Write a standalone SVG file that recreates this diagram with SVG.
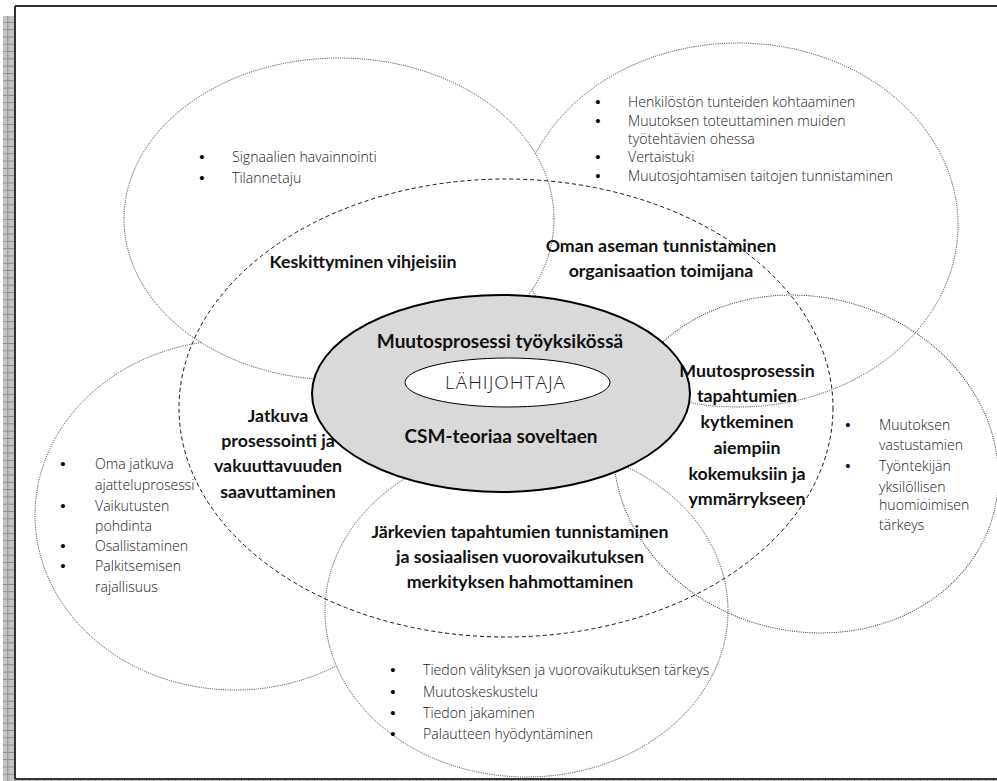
<svg xmlns="http://www.w3.org/2000/svg" width="997" height="781" viewBox="0 0 997 781">
<defs>
<pattern id="grid" width="7.3" height="7.3" patternUnits="userSpaceOnUse">
<rect width="7.3" height="7.3" fill="#c4c4c4"/>
<path d="M0 0.5H7.3M0.5 0V7.3" stroke="#8c8c8c" stroke-width="1"/>
</pattern>
<style>
.dot{fill:none;stroke:#333;stroke-width:1;stroke-dasharray:1 1.2}
.dotw{fill:#fff;stroke:#333;stroke-width:1;stroke-dasharray:1 1.2}
.dash{fill:none;stroke:#111;stroke-width:1;stroke-dasharray:4 3}
.lbl{font-family:Lato,"Liberation Sans",sans-serif;font-weight:700;font-size:17.8px;fill:#111;text-anchor:middle}
.big{font-size:19px}
.bul{font-family:"Open Sans","Liberation Sans",sans-serif;font-weight:300;font-size:14.1px;fill:#222}
.bd{font-family:"Liberation Sans",sans-serif;font-size:15px;fill:#000;text-anchor:middle}
</style>
</defs>
<rect width="997" height="781" fill="#fff"/>
<rect x="3" y="16" width="12" height="765" fill="url(#grid)"/>
<rect x="15" y="779" width="982" height="2" fill="url(#grid)"/>
<path d="M15 6H997M15 6V779M15 779H997" fill="none" stroke="#333" stroke-width="2"/>

<g id="left">
<ellipse class="dot" cx="235" cy="515" rx="200" ry="175"/>
<text class="bd" x="63" y="469">•</text><text class="bul" x="95" y="469">Oma jatkuva</text>
<text class="bul" x="95" y="490">ajatteluprosessi</text>
<text class="bd" x="63" y="511">•</text><text class="bul" x="95" y="511">Vaikutusten</text>
<text class="bul" x="95" y="531">pohdinta</text>
<text class="bd" x="63" y="551">•</text><text class="bul" x="95" y="551">Osallistaminen</text>
<text class="bd" x="63" y="571">•</text><text class="bul" x="95" y="571">Palkitsemisen</text>
<text class="bul" x="95" y="592">rajallisuus</text>
</g>
<g id="top-right">
<ellipse class="dot" cx="738" cy="225" rx="220" ry="182"/>
<text class="bd" x="598" y="107">•</text><text class="bul" x="628" y="107">Henkilöstön tunteiden kohtaaminen</text>
<text class="bd" x="598" y="126">•</text><text class="bul" x="628" y="126">Muutoksen toteuttaminen muiden</text>
<text class="bul" x="628" y="144">työtehtävien ohessa</text>
<text class="bd" x="598" y="162">•</text><text class="bul" x="628" y="162">Vertaistuki</text>
<text class="bd" x="598" y="181">•</text><text class="bul" x="628" y="181">Muutosjohtamisen taitojen tunnistaminen</text>
</g>
<g id="top-left">
<ellipse class="dotw" cx="339" cy="219" rx="215" ry="161"/>
<text class="bd" x="202" y="162">•</text><text class="bul" x="232" y="162">Signaalien havainnointi</text>
<text class="bd" x="202" y="183">•</text><text class="bul" x="232" y="183">Tilannetaju</text>
</g>
<g id="bottom">
<ellipse class="dotw" cx="526.5" cy="611" rx="201.5" ry="166"/>
<text class="bd" x="393" y="675">•</text><text class="bul" x="423" y="675">Tiedon välityksen ja vuorovaikutuksen tärkeys</text>
<text class="bd" x="393" y="697">•</text><text class="bul" x="423" y="697">Muutoskeskustelu</text>
<text class="bd" x="393" y="718">•</text><text class="bul" x="423" y="718">Tiedon jakaminen</text>
<text class="bd" x="393" y="739">•</text><text class="bul" x="423" y="739">Palautteen hyödyntäminen</text>
</g>
<g id="right">
<ellipse class="dot" cx="806" cy="464" rx="194" ry="167" transform="rotate(15 806 464)"/>
<text class="bd" x="848" y="430">•</text><text class="bul" x="879" y="430">Muutoksen</text>
<text class="bul" x="879" y="450">vastustamien</text>
<text class="bd" x="848" y="471">•</text><text class="bul" x="879" y="471">Työntekijän</text>
<text class="bul" x="879" y="492">yksilöllisen</text>
<text class="bul" x="879" y="510">huomioimisen</text>
<text class="bul" x="879" y="530">tärkeys</text>
</g>
<g id="sensemaking">
<ellipse class="dash" cx="506" cy="408" rx="327" ry="229"/>
</g>
<g id="core">
<ellipse cx="501" cy="393.5" rx="189" ry="98.5" fill="#d9d9d9" stroke="#000" stroke-width="2"/>
<text class="lbl big" x="500" y="348">Muutosprosessi työyksikössä</text>
<text class="lbl big" x="501" y="443">CSM-teoriaa soveltaen</text>
</g>
<g id="lahijohtaja">
<ellipse cx="507.5" cy="382.5" rx="102.5" ry="24.5" fill="#fff" stroke="#000" stroke-width="1"/>
<text x="505" y="389" font-family="'Open Sans','Liberation Sans',sans-serif" font-weight="300" font-size="19" fill="#222" text-anchor="middle" textLength="120">LÄHIJOHTAJA</text>
</g>
<g id="labels">
<text class="lbl" x="363" y="268">Keskittyminen vihjeisiin</text>
<text class="lbl" x="661" y="252">Oman aseman tunnistaminen</text>
<text class="lbl" x="661" y="277">organisaation toimijana</text>
<text class="lbl" x="278" y="422">Jatkuva</text>
<text class="lbl" x="278" y="447">prosessointi ja</text>
<text class="lbl" x="278" y="472">vakuuttavuuden</text>
<text class="lbl" x="278" y="498">saavuttaminen</text>
<text class="lbl" x="747" y="377">Muutosprosessin</text>
<text class="lbl" x="747" y="402">tapahtumien</text>
<text class="lbl" x="747" y="428">kytkeminen</text>
<text class="lbl" x="747" y="454">aiempiin</text>
<text class="lbl" x="747" y="480">kokemuksiin ja</text>
<text class="lbl" x="747" y="505">ymmärrykseen</text>
<text class="lbl" x="520" y="538">Järkevien tapahtumien tunnistaminen</text>
<text class="lbl" x="520" y="563">ja sosiaalisen vuorovaikutuksen</text>
<text class="lbl" x="520" y="588">merkityksen hahmottaminen</text>
</g>
<g id="connectors"/>
</svg>
